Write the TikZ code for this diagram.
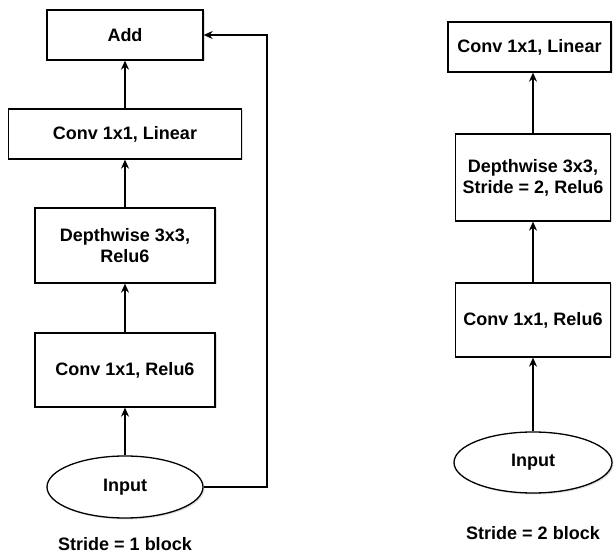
\documentclass[tikz,border=0pt]{standalone}
\usepackage{fontspec}
\setmainfont{Liberation Sans}
\usetikzlibrary{arrows.meta,shapes.geometric,shadows}
\begin{document}
\begin{tikzpicture}[x=1pt,y=-1pt,line width=1.3pt,
    >={Stealth[length=9pt,width=8pt]},
    font=\fontsize{18}{21}\selectfont\bfseries,
    layer/.style={draw,rectangle,inner sep=0pt,align=center,fill=white,
        drop shadow={shadow xshift=1.5pt,shadow yshift=-1.5pt,opacity=0.25}},
    inp/.style={draw,ellipse,inner sep=0pt,fill=white,
        drop shadow={shadow xshift=1.5pt,shadow yshift=-1.5pt,opacity=0.25}},
    flow/.style={->}]
            \useasboundingbox (0,0) rectangle (614,553);
            % stride 1 block
            \node[layer,minimum width=156pt,minimum height=50pt] (add) at (125,35) {Add};
            \node[layer,minimum width=233pt,minimum height=50pt] (lin) at (125,134) {Conv 1x1, Linear};
            \node[layer,minimum width=180pt,minimum height=75pt] (dw) at (125,245.5) {Depthwise 3x3,\\Relu6};
            \node[layer,minimum width=180pt,minimum height=74pt] (exp) at (125,370) {Conv 1x1, Relu6};
            \node[inp,minimum width=156pt,minimum height=62pt] (in) at (125,487) {Input};
            \node (cap) at (125,544) {Stride = 1 block};
            \coordinate (skip) at (267,300);
            \draw[flow] (in) -- (exp);
            \draw[flow] (exp) -- (dw);
            \draw[flow] (dw) -- (lin);
            \draw[flow] (lin) -- (add);
            \draw[flow] (in.east) -| (skip) |- (add.east);
            % stride 2 block
            \node[layer,minimum width=163pt,minimum height=50pt] (lintwo) at (529.5,47) {Conv 1x1, Linear};
            \node[layer,minimum width=155pt,minimum height=87pt] (dwtwo) at (533,177.5) {Depthwise 3x3,\\Stride = 2, Relu6};
            \node[layer,minimum width=155pt,minimum height=74pt] (exptwo) at (533,320) {Conv 1x1, Relu6};
            \node[inp,minimum width=158pt,minimum height=61pt] (intwo) at (533,462.5) {Input};
            \node (captwo) at (533,533) {Stride = 2 block};
            \draw[flow] (intwo) -- (exptwo);
            \draw[flow] (exptwo) -- (dwtwo);
            \draw[flow] (dwtwo) -- (dwtwo |- lintwo.south);
        \end{tikzpicture}
\end{document}
